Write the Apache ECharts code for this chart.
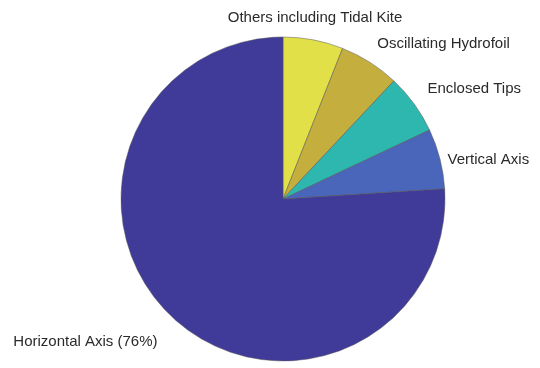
<!DOCTYPE html>
<html><head><meta charset="utf-8">
<script src="https://cdn.jsdelivr.net/npm/echarts@6/dist/echarts.min.js"></script>
<style>html,body{margin:0;padding:0;background:#fff}#c{width:540px;height:368px}</style>
</head><body><div id="c"></div>
<script>
const categories = ['Others including Tidal Kite', 'Oscillating Hydrofoil', 'Enclosed Tips', 'Vertical Axis', 'Horizontal Axis (76%)'];
const values = [6, 6, 6, 6, 76];
const colors = ['#e2e048', '#c4ae3e', '#2db7ae', '#4a66bb', '#403b99'];
// label nudges (style only)
const labelNudgeX = [-6, -5, -3, -11, 0];
const labelNudgeY = [-8, -7, -7, 5, 15];

const chart = echarts.init(document.getElementById('c'));
chart.setOption({
  backgroundColor: '#ffffff',
  animation: false,
  series: [{
    type: 'pie',
    center: [283, 199],
    radius: 162,
    startAngle: 90,
    clockwise: true,
    avoidLabelOverlap: false,
    data: categories.map((n, i) => ({ name: n, value: values[i], itemStyle: { color: colors[i] } })),
    itemStyle: { borderColor: '#555', borderWidth: 0.5 },
    label: {
      show: true, position: 'outside', formatter: '{b}',
      fontFamily: 'Liberation Sans, Arial, sans-serif', fontSize: 15, color: '#2a2a2a'
    },
    labelLine: { show: false, length: 14, length2: 0 },
    labelLayout: function (p) {
      const i = p.dataIndex;
      let dx = labelNudgeX[i];
      if (i === 0) dx -= p.labelRect.width / 2;
      return { dx: dx, dy: labelNudgeY[i] };
    }
  }]
});
</script></body></html>
